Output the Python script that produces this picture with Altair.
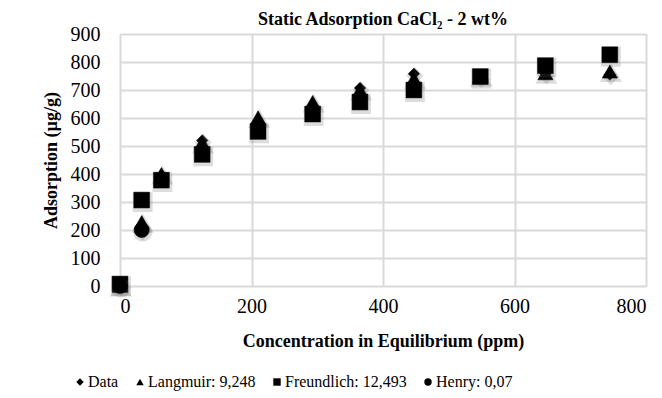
import altair as alt
import pandas as pd

conc = [0, 33, 63, 125, 210, 293, 365, 447, 548, 647, 745]
data_vals = [0, 200, 395, 520, 580, 640, 707, 758, 745, 758, 755]
langmuir_vals = [0, 228, 400, 512, 602, 657, 700, 740, 750, 760, 766]
freundlich_vals = [7, 307, 378, 470, 552, 614, 657, 700, 748, 787, 826]
henry_conc = [0, 33]
henry_vals = [0, 200]

series_names = ["Data", "Langmuir: 9,248", "Freundlich: 12,493", "Henry: 0,07"]
shapes = ["diamond", "triangle-up", "square", "circle"]
sizes = [130, 230, 250, 230]

rows = []
for name, vals in zip(series_names[:3], [data_vals, langmuir_vals, freundlich_vals]):
    for c, v in zip(conc, vals):
        rows.append({"conc": c, "ads": v, "series": name})
for c, v in zip(henry_conc, henry_vals):
    rows.append({"conc": c, "ads": v, "series": series_names[3]})
df = pd.DataFrame(rows)

font = "Liberation Serif"

x_enc = alt.X("conc:Q",
              scale=alt.Scale(domain=[0, 800], nice=False, zero=False),
              axis=alt.Axis(values=[0, 200, 400, 600, 800], title="Concentration in Equilibrium (ppm)",
                            grid=True, ticks=False, domain=False, labelPadding=10, titlePadding=16,
                            labelFont=font, labelFontSize=20, labelColor="black",
                            titleFont=font, titleFontSize=18, titleFontWeight="bold", titleColor="black",
                            gridColor="#d9d9d9", gridWidth=2))
y_enc = alt.Y("ads:Q",
              scale=alt.Scale(domain=[0, 900], nice=False),
              axis=alt.Axis(values=list(range(0, 1000, 100)), title="Adsorption (µg/g)",
                            grid=True, ticks=False, domain=False, labelPadding=20, titlePadding=10,
                            labelOverlap=False,
                            labelFont=font, labelFontSize=20, labelColor="black",
                            titleFont=font, titleFontSize=18, titleFontWeight="bold", titleColor="black",
                            gridColor="#d9d9d9", gridWidth=2))
shape_enc = alt.Shape("series:N", scale=alt.Scale(domain=series_names, range=shapes),
                      legend=alt.Legend(title=None, orient="none", direction="horizontal",
                                        legendX=-48, legendY=340, symbolSize=55,
                                        symbolFillColor="black", symbolStrokeColor="black",
                                        symbolOpacity=1,
                                        labelFont=font, labelFontSize=16, labelColor="black",
                                        columnPadding=13, labelOffset=0))

base = alt.Chart(df).encode(x=x_enc, y=y_enc)

shadow_layers = []
point_layers = []
for name, shp, sz in zip(series_names, shapes, sizes):
    sub = base.transform_filter(alt.datum.series == name)
    shadow_layers.append(
        sub.mark_point(filled=True, fill="#666", stroke="#666", strokeWidth=4, size=sz,
                       opacity=0.22, yOffset=2, xOffset=1).encode(shape=alt.value(shp))
    )
    point_layers.append(
        sub.mark_point(filled=True, fill="black", stroke="black", strokeWidth=0.5, size=sz,
                       opacity=1).encode(shape=shape_enc)
    )

layers = []
for s, p in zip(shadow_layers, point_layers):
    layers.extend([s, p])

chart = alt.layer(*layers).properties(
    width=526,
    height=252,
    title=alt.Title("Static Adsorption CaCl₂ - 2 wt%", font=font, fontSize=18, fontWeight="bold",
                    color="black", offset=-5),
    padding={"left": 34, "top": 3, "right": 5, "bottom": 5},
).configure_view(
    stroke="#d9d9d9", strokeWidth=2,
).configure(background="white")

chart.save("out.html", embed_options={"renderer": "svg", "actions": False})
